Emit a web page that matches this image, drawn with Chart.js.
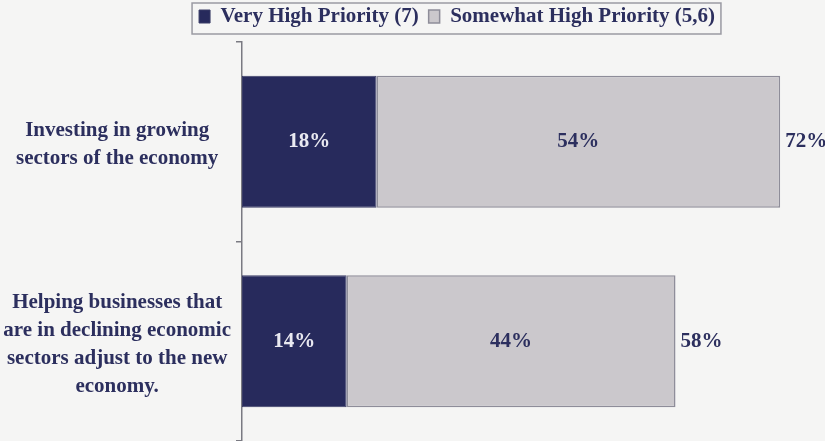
<!DOCTYPE html>
<html>
<head>
<meta charset="utf-8">
<script src="https://cdn.jsdelivr.net/npm/chart.js@4/dist/chart.umd.min.js"></script>
<style>
  html, body { margin: 0; padding: 0; background: #f5f5f4; }
  #wrap { width: 825px; height: 441px; }
</style>
</head>
<body>
<div id="wrap"><canvas id="c" width="825" height="441"></canvas></div>
<script>
// Survey items (multi-line labels) and priority shares, in percent
const categories = [
  ['Investing in growing', 'sectors of the economy'],
  ['Helping businesses that', 'are in declining economic', 'sectors adjust to the new', 'economy.']
];
const veryHigh = [18, 14];
const somewhatHigh = [54, 44];
const seriesNames = ['Very High Priority (7)', 'Somewhat High Priority (5,6)'];

const NAVY = '#272a5c';
const GREY = '#cbc8cc';
const TEXT = '#2c2f5e';
const SERIF = "'Liberation Serif', 'Times New Roman', serif";
const FONT_SIZE = 21;
const PLOT_LEFT = 242;
const PLOT_TOP = 42;
const LEGEND_LEFT = 89;
const LEGEND_RAISE = 5;

// Percentage labels inside each segment plus a total at the end of each bar
const valueLabels = {
  id: 'valueLabels',
  afterDatasetsDraw(chart) {
    const ctx = chart.ctx;
    ctx.save();
    ctx.font = 'bold ' + FONT_SIZE + 'px ' + SERIF;
    ctx.textBaseline = 'middle';
    chart.data.datasets.forEach((ds, di) => {
      const meta = chart.getDatasetMeta(di);
      meta.data.forEach((bar, i) => {
        ctx.textAlign = 'center';
        ctx.fillStyle = di === 0 ? '#e9e9f1' : TEXT;
        ctx.fillText(ds.data[i] + '%', (bar.x + bar.base) / 2, bar.y);
      });
    });
    const last = chart.getDatasetMeta(chart.data.datasets.length - 1);
    last.data.forEach((bar, i) => {
      const total = chart.data.datasets.reduce((s, ds) => s + ds.data[i], 0);
      ctx.textAlign = 'left';
      ctx.fillStyle = TEXT;
      ctx.fillText(total + '%', bar.x + 5, bar.y);
    });
    ctx.restore();
  }
};

// Page background, legend placement over the plot and its frame
const frame = {
  id: 'frame',
  afterLayout(chart) {
    const lg = chart.legend;
    if (!lg) return;
    lg.left = LEGEND_LEFT;
    lg.top -= LEGEND_RAISE;
    lg.bottom -= LEGEND_RAISE;
  },
  beforeDraw(chart) {
    const ctx = chart.ctx;
    ctx.save();
    ctx.fillStyle = '#f5f5f4';
    ctx.fillRect(0, 0, chart.width, chart.height);
    ctx.restore();
  },
  afterDraw(chart) {
    const lg = chart.legend;
    if (!lg || !lg.legendHitBoxes.length) return;
    const boxes = lg.legendHitBoxes;
    const l = Math.min(...boxes.map(b => b.left)) - 7;
    const r = Math.max(...boxes.map(b => b.left + b.width)) + 6;
    const t = Math.min(...boxes.map(b => b.top)) - 3;
    const btm = Math.max(...boxes.map(b => b.top + b.height)) + 7;
    const ctx = chart.ctx;
    ctx.save();
    ctx.strokeStyle = '#9a9aa2';
    ctx.lineWidth = 1.5;
    ctx.strokeRect(l, t, r - l, btm - t);
    ctx.restore();
  }
};

new Chart(document.getElementById('c'), {
  type: 'bar',
  data: {
    labels: categories,
    datasets: [
      {
        label: seriesNames[0],
        data: veryHigh,
        backgroundColor: NAVY,
        borderColor: '#3a3c66',
        borderWidth: 1,
        borderSkipped: false
      },
      {
        label: seriesNames[1],
        data: somewhatHigh,
        backgroundColor: GREY,
        borderColor: '#8e8d99',
        borderWidth: 1.5,
        borderSkipped: false
      }
    ]
  },
  options: {
    indexAxis: 'y',
    responsive: false,
    animation: false,
    devicePixelRatio: 1,
    layout: { padding: 0 },
    datasets: { bar: { categoryPercentage: 0.662, barPercentage: 1 } },
    plugins: {
      legend: {
        position: 'top',
        labels: {
          boxWidth: 11,
          boxHeight: 13,
          padding: 10,
          color: TEXT,
          font: { family: SERIF, size: FONT_SIZE, weight: 'bold' }
        }
      },
      tooltip: { enabled: false }
    },
    scales: {
      x: {
        stacked: true,
        min: 0,
        max: 78,
        display: false
      },
      y: {
        stacked: true,
        border: { display: true, color: '#7a7a82', width: 1.5 },
        grid: {
          drawOnChartArea: false,
          drawTicks: true,
          tickLength: 6,
          color: '#7a7a82',
          lineWidth: 1.5
        },
        ticks: {
          crossAlign: 'center',
          padding: 5,
          labelOffset: 3,
          color: TEXT,
          font: { family: SERIF, size: FONT_SIZE, weight: 'bold', lineHeight: 1.333 }
        },
        afterFit(scale) {
          scale.width = PLOT_LEFT;
          scale.paddingTop = PLOT_TOP;
          scale.paddingBottom = 0;
        }
      }
    }
  },
  plugins: [frame, valueLabels]
});
</script>
</body>
</html>
